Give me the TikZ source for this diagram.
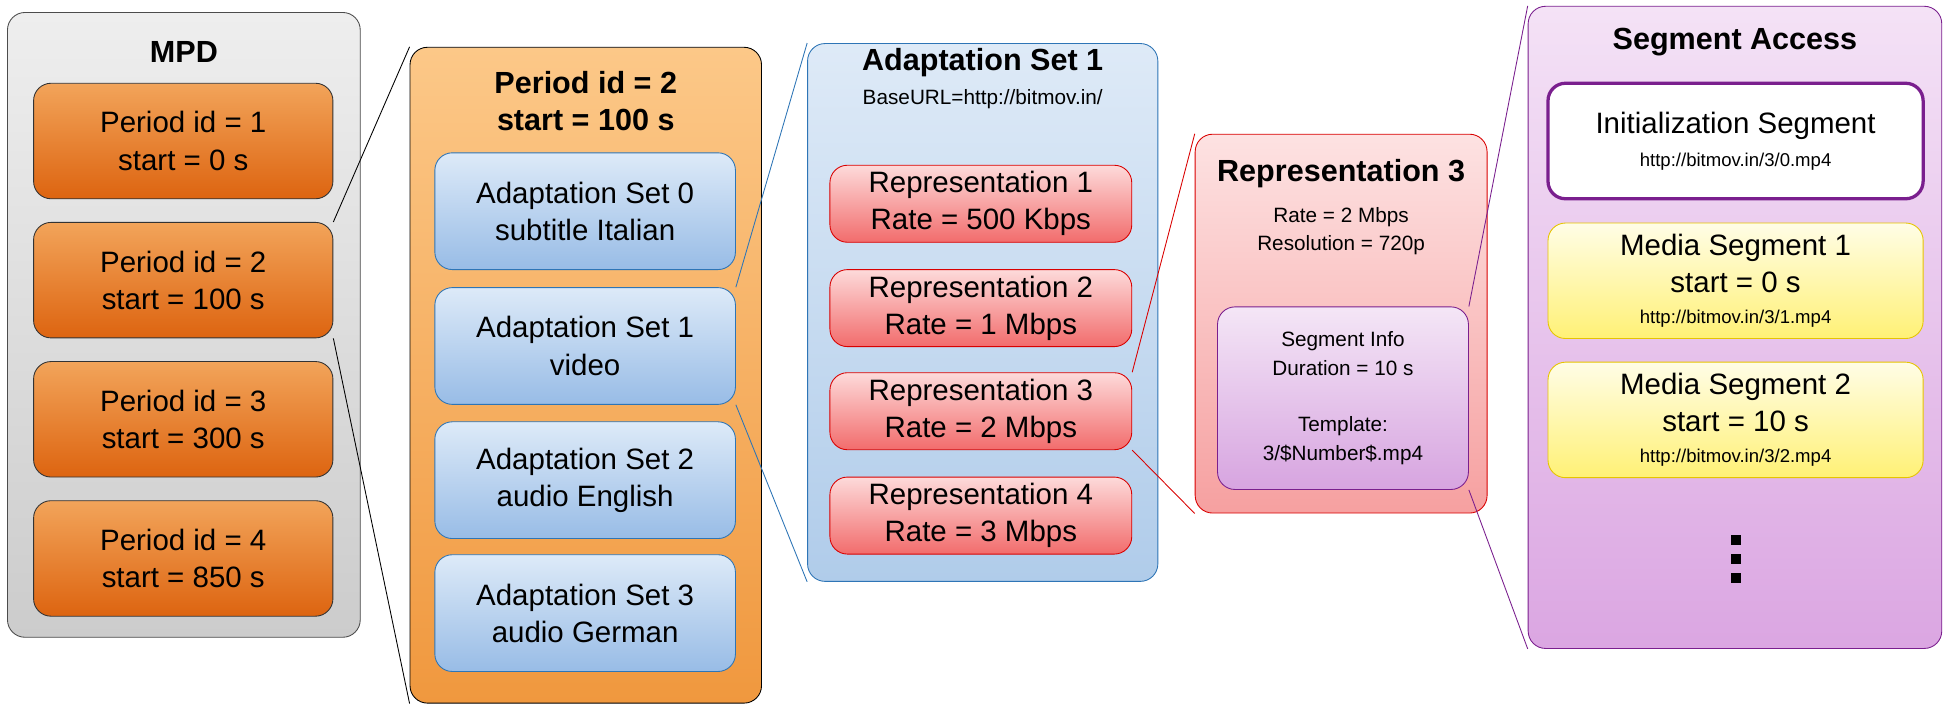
\documentclass[tikz,border=0pt]{standalone}
\usepackage{fontspec}
\setmainfont{Liberation Sans}
\usetikzlibrary{positioning}
\definecolor{mpdtop}{HTML}{EEEEEE}\definecolor{mpdbot}{HTML}{CCCCCC}
\definecolor{pertop}{HTML}{F2A45A}\definecolor{perbot}{HTML}{DD6410}
\definecolor{potop}{HTML}{FCC888}\definecolor{pobot}{HTML}{F0983E}
\definecolor{astop}{HTML}{DDEAF8}\definecolor{asbot}{HTML}{98BCE6}
\definecolor{asline}{HTML}{2E75B6}
\definecolor{aotop}{HTML}{DEEAF7}\definecolor{aobot}{HTML}{B0CCEA}
\definecolor{reptop}{HTML}{FDDADA}\definecolor{repbot}{HTML}{F26C6C}
\definecolor{rotop}{HTML}{FDE2E2}\definecolor{robot}{HTML}{F6A0A0}
\definecolor{sitop}{HTML}{F4E6F6}\definecolor{sibot}{HTML}{D7A4E0}
\definecolor{satop}{HTML}{F4E2F6}\definecolor{sabot}{HTML}{DBA6E2}
\definecolor{purp}{HTML}{7A1F8E}
\definecolor{medtop}{HTML}{FFFDE6}\definecolor{medbot}{HTML}{FFF176}
\definecolor{medline}{HTML}{E6C400}
\begin{document}
\begin{tikzpicture}[x=0.02cm, y=-0.02cm,
		box_style/.style={rectangle, rounded corners=8pt, align=center, font=\fontsize{13.5}{17}\selectfont, inner sep=0pt},
		mpd_style/.style={box_style, draw=black!70, top color=mpdtop, bottom color=mpdbot},
		period_style/.style={box_style, draw=black!80, top color=pertop, bottom color=perbot},
		pouter_style/.style={box_style, draw=black, top color=potop, bottom color=pobot},
		as_style/.style={box_style, draw=asline, top color=astop, bottom color=asbot},
		aouter_style/.style={box_style, draw=asline, top color=aotop, bottom color=aobot},
		rep_style/.style={box_style, draw=red!85!black, top color=reptop, bottom color=repbot},
		router_style/.style={box_style, draw=red!85!black, top color=rotop, bottom color=robot},
		si_style/.style={box_style, draw=purp, top color=sitop, bottom color=sibot, font=\fontsize{9.5}{13}\selectfont},
		sa_style/.style={box_style, draw=purp, top color=satop, bottom color=sabot},
		seg_style/.style={box_style, draw=medline, top color=medtop, bottom color=medbot},
		title_style/.style={font=\fontsize{14}{17}\selectfont\bfseries, align=center},
		small_style/.style={font=\fontsize{8.5}{11}\selectfont, align=center},
		edge_style/.style={draw=black, thin}]
		\useasboundingbox (0,0) rectangle (1568,575);
		% MPD
		\node[mpd_style, minimum width=5.68cm, minimum height=10.06cm] (mpd) at (148,261.5) {};
		\node[title_style] (mpdt) at (148,42) {MPD};
		\node[period_style, minimum width=4.82cm, minimum height=1.86cm] (p1) at (147.5,113.5) {Period id = 1\\start = 0 s};
		\node[period_style, minimum width=4.82cm, minimum height=1.86cm] (p2) at (147.5,225.5) {Period id = 2\\start = 100 s};
		\node[period_style, minimum width=4.82cm, minimum height=1.86cm] (p3) at (147.5,337.5) {Period id = 3\\start = 300 s};
		\node[period_style, minimum width=4.82cm, minimum height=1.86cm] (p4) at (147.5,449.5) {Period id = 4\\start = 850 s};
		% Period
		\node[pouter_style, minimum width=5.66cm, minimum height=10.56cm] (pouter) at (471.5,302) {};
		\node[title_style] (pt) at (471.5,81) {Period id = 2\\start = 100 s};
		\node[as_style, minimum width=4.84cm, minimum height=1.88cm] (as0) at (471,170) {Adaptation Set 0\\subtitle Italian};
		\node[as_style, minimum width=4.84cm, minimum height=1.88cm] (as1) at (471,278.5) {Adaptation Set 1\\video};
		\node[as_style, minimum width=4.84cm, minimum height=1.88cm] (as2) at (471,386.5) {Adaptation Set 2\\audio English};
		\node[as_style, minimum width=4.84cm, minimum height=1.88cm] (as3) at (471,493.5) {Adaptation Set 3\\audio German};
		% Adaptation Set 1
		\node[aouter_style, minimum width=5.64cm, minimum height=8.66cm] (aouter) at (791,251.5) {};
		\node[title_style] (at) at (791,50) {Adaptation Set 1};
		\node[small_style, font=\fontsize{9.5}{12}\selectfont] (aurl) at (791,80) {BaseURL=http://bitmov.in/};
		\node[rep_style, minimum width=4.86cm, minimum height=1.24cm] (r1) at (789.5,164) {Representation 1\\Rate = 500 Kbps};
		\node[rep_style, minimum width=4.86cm, minimum height=1.24cm] (r2) at (789.5,248) {Representation 2\\Rate = 1 Mbps};
		\node[rep_style, minimum width=4.86cm, minimum height=1.24cm] (r3) at (789.5,331) {Representation 3\\Rate = 2 Mbps};
		\node[rep_style, minimum width=4.86cm, minimum height=1.24cm] (r4) at (789.5,415) {Representation 4\\Rate = 3 Mbps};
		% Representation 3
		\node[router_style, minimum width=4.7cm, minimum height=6.1cm] (router) at (1079.5,260.5) {};
		\node[title_style] (rt) at (1079.5,140) {Representation 3};
		\node[small_style, font=\fontsize{9.5}{13}\selectfont] (rinfo) at (1079.5,186) {Rate = 2 Mbps\\Resolution = 720p};
		\node[si_style, minimum width=4.04cm, minimum height=2.94cm] (si) at (1081,320.5) {Segment Info\\Duration = 10 s\\[13pt]Template:\\3/\$Number\$.mp4};
		% Segment Access
		\node[sa_style, minimum width=6.66cm, minimum height=10.34cm] (sa) at (1396.5,263.5) {};
		\node[title_style] (st) at (1396.5,34) {Segment Access};
		\node[box_style, draw=purp, line width=1.5pt, fill=white, minimum width=6.04cm, minimum height=1.86cm] (init) at (1397,113.5) {Initialization Segment\\[-2pt]{\fontsize{8.5}{11}\selectfont http://bitmov.in/3/0.mp4}};
		\node[seg_style, minimum width=6.04cm, minimum height=1.86cm] (m1) at (1397,226) {Media Segment 1\\start = 0 s\\[-3pt]{\fontsize{8.5}{11}\selectfont http://bitmov.in/3/1.mp4}};
		\node[seg_style, minimum width=6.04cm, minimum height=1.86cm] (m2) at (1397,338) {Media Segment 2\\start = 10 s\\[-3pt]{\fontsize{8.5}{11}\selectfont http://bitmov.in/3/2.mp4}};
		\foreach \y in {431,446,461}
			\fill (1393,\y) rectangle (1401,\y+8);
		% zoom lines
		\draw[edge_style] (p2.north east) -- (pouter.north west);
		\draw[edge_style] (p2.south east) -- (pouter.south west);
		\draw[edge_style, draw=asline] (as1.north east) -- (aouter.north west);
		\draw[edge_style, draw=asline] (as1.south east) -- (aouter.south west);
		\draw[edge_style, draw=red!85!black] (r3.north east) -- (router.north west);
		\draw[edge_style, draw=red!85!black] (r3.south east) -- (router.south west);
		\draw[edge_style, draw=purp] (si.north east) -- (sa.north west);
		\draw[edge_style, draw=purp] (si.south east) -- (sa.south west);
\end{tikzpicture}
\end{document}
